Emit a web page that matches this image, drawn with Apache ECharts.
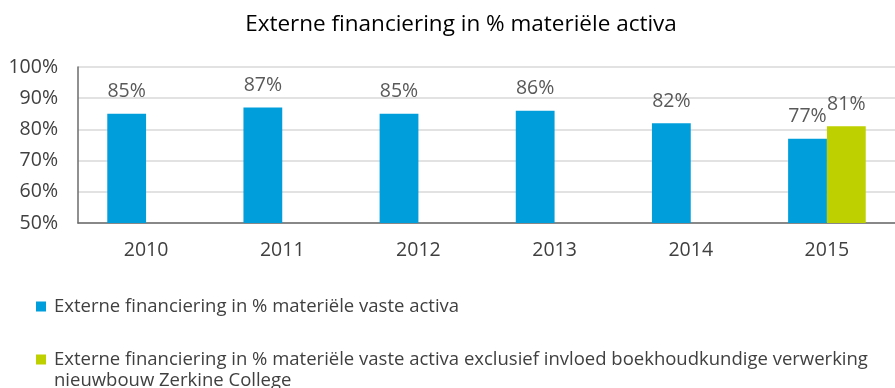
<!DOCTYPE html>
<html>
<head>
<meta charset="utf-8">
<script src="https://cdn.jsdelivr.net/npm/echarts@6/dist/echarts.min.js"></script>
<style>
  html, body { margin: 0; padding: 0; background: #fff; }
  #chart { width: 895px; height: 388px; }
</style>
</head>
<body>
<div id="chart"></div>
<script>
// Jaren en percentages
const years = ['2010', '2011', '2012', '2013', '2014', '2015'];
const vasteActiva = [85, 87, 85, 86, 82, 77];
const exclusiefNieuwbouw = [null, null, null, null, null, 81];
const yTicks = [50, 60, 70, 80, 90, 100];

const nameA = 'Externe financiering in % materiële vaste activa';
const nameB = 'Externe financiering in % materiële vaste activa exclusief invloed boekhoudkundige verwerking';
const nameBLine2 = 'nieuwbouw Zerkine College';

const FONT = '"Open Sans", sans-serif';
const FS_AXIS = 19.5;   // as- en waardelabels
const FS_LEGEND = 18.5; // legenda

const chart = echarts.init(document.getElementById('chart'));
chart.setOption({
  animation: false,
  title: {
    text: 'Externe financiering in % materiële activa',
    left: 456,
    textAlign: 'center',
    top: 8,
    textStyle: { fontFamily: FONT, fontSize: 22.5, fontWeight: 'normal', color: '#000' }
  },
  grid: { left: 78, right: 0, top: 67, bottom: 165, containLabel: false },
  legend: {
    orient: 'vertical',
    left: 36,
    top: 297,
    padding: 0,
    itemWidth: 10,
    itemHeight: 10,
    itemGap: 34,
    icon: 'rect',
    data: [nameA, nameB],
    selectedMode: false,
    textStyle: { fontFamily: FONT, fontSize: FS_LEGEND, color: '#404040', padding: [0, 0, 0, 3] }
  },
  graphic: [{
    type: 'text',
    left: 54,
    top: 371,
    style: { text: nameBLine2, fontFamily: FONT, fontSize: FS_LEGEND, fill: '#404040' }
  }],
  xAxis: {
    type: 'category',
    data: years,
    axisLine: { lineStyle: { color: '#6b6b6b', width: 1.5 } },
    axisTick: { show: false },
    axisLabel: { fontFamily: FONT, fontSize: FS_AXIS, color: '#404040', margin: 17 }
  },
  yAxis: {
    type: 'value',
    min: yTicks[0],
    max: yTicks[yTicks.length - 1],
    interval: 10,
    axisLine: { show: true, lineStyle: { color: '#6b6b6b', width: 1.5 } },
    axisTick: { show: false },
    splitLine: { lineStyle: { color: '#d9d9d9', width: 1.5 } },
    axisLabel: { fontFamily: FONT, fontSize: FS_AXIS, color: '#404040', margin: 20, formatter: v => v + '%' }
  },
  series: [
    {
      name: nameA,
      type: 'bar',
      data: vasteActiva,
      itemStyle: { color: '#009fdc' },
      barGap: '0%',
      barCategoryGap: '43%',
      label: {
        show: true, position: 'top', distance: 12,
        fontFamily: FONT, fontSize: FS_AXIS, color: '#595959',
        formatter: p => p.value + '%'
      }
    },
    {
      name: nameB,
      type: 'bar',
      data: exclusiefNieuwbouw,
      itemStyle: { color: '#bed000' },
      label: {
        show: true, position: 'top', distance: 12,
        fontFamily: FONT, fontSize: FS_AXIS, color: '#595959',
        formatter: p => p.value + '%'
      }
    }
  ]
});
</script>
</body>
</html>
